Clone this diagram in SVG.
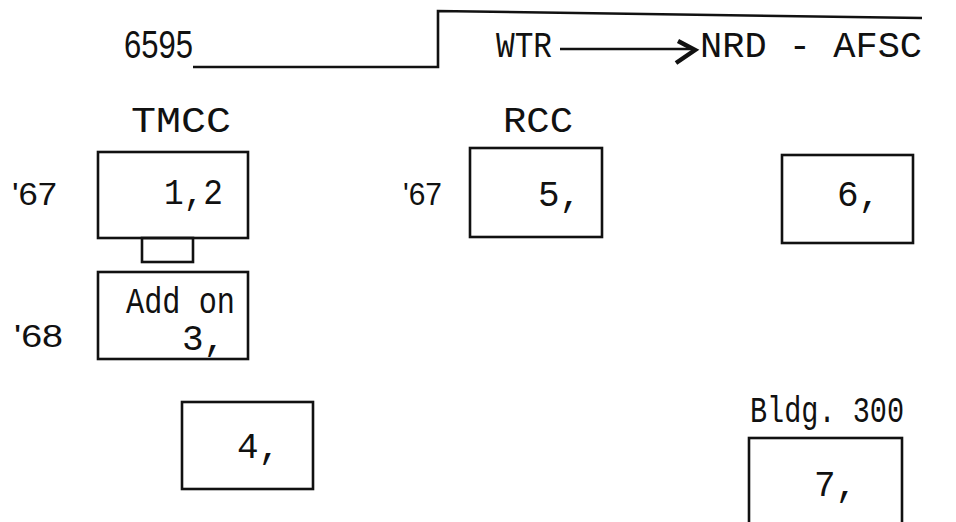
<svg xmlns="http://www.w3.org/2000/svg" width="956" height="522" viewBox="0 0 956 522">
<style>
.bg{fill:#fff}
.box{fill:none;stroke:#111;stroke-width:2.6}
.ln{fill:none;stroke:#111;stroke-width:2.6;stroke-linejoin:miter}
.tw{font-family:"Liberation Mono","Courier New",monospace;font-size:36px;fill:#111}
.sn{font-family:"Liberation Sans",Arial,sans-serif;font-size:32px;fill:#111}
</style>
<rect class="bg" x="0" y="0" width="956" height="522"/>
<g id="connectors">
  <path class="ln" d="M193,67 L438,67 L438,11 L922,18"/>
  <line class="ln" x1="560" y1="49" x2="692" y2="49"/>
  <polyline fill="none" stroke="#111" stroke-width="4.5" stroke-linejoin="miter" points="678,41 695,50 676,63"/>
  <rect class="box" x="142" y="238" width="51" height="24"/>
</g>
<g id="header">
  <text class="sn" x="124" y="58" style="font-size:38px" textLength="69" lengthAdjust="spacingAndGlyphs">6595</text>
  <text class="tw" x="496" y="57" textLength="56" lengthAdjust="spacingAndGlyphs">WTR</text>
  <text class="tw" x="700" y="57" style="font-size:37px" xml:space="preserve">NRD - AFSC</text>
</g>
<g id="tmcc">
  <text class="tw" x="131" y="132" textLength="100" lengthAdjust="spacingAndGlyphs">TMCC</text>
  <text class="sn" x="12" y="205" textLength="45" lengthAdjust="spacingAndGlyphs">'67</text>
  <rect class="box" x="98" y="152" width="150" height="86"/>
  <text class="tw" x="164" y="204" textLength="59" lengthAdjust="spacingAndGlyphs">1,2</text>
</g>
<g id="addon">
  <text class="sn" x="14" y="347" textLength="49" lengthAdjust="spacingAndGlyphs">'68</text>
  <rect class="box" x="98" y="272" width="150" height="87"/>
  <text class="tw" x="126" y="313" textLength="109" lengthAdjust="spacingAndGlyphs">Add on</text>
  <text class="tw" x="182" y="350">3,</text>
</g>
<g id="rcc">
  <text class="tw" x="503" y="132" textLength="70" lengthAdjust="spacingAndGlyphs">RCC</text>
  <text class="sn" x="403" y="205" textLength="39" lengthAdjust="spacingAndGlyphs">'67</text>
  <rect class="box" x="470" y="148" width="132" height="89"/>
  <text class="tw" x="538" y="206">5,</text>
</g>
<g id="node6">
  <rect class="box" x="782" y="155" width="131" height="88"/>
  <text class="tw" x="837" y="206">6,</text>
</g>
<g id="node4">
  <rect class="box" x="182" y="402" width="131" height="87"/>
  <text class="tw" x="237" y="458">4,</text>
</g>
<g id="bldg300">
  <text class="tw" x="750" y="422" textLength="154" lengthAdjust="spacingAndGlyphs">Bldg. 300</text>
  <rect class="box" x="749" y="438" width="153" height="100"/>
  <text class="tw" x="814" y="496">7,</text>
</g>
</svg>
